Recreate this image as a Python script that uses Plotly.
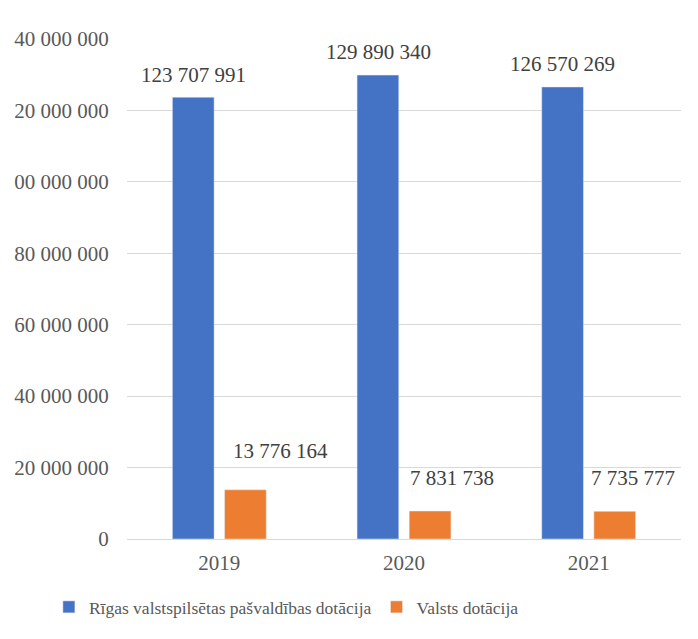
import plotly.graph_objects as go

# values
years = ["2019", "2020", "2021"]
riga_dotacija = [123707991, 129890340, 126570269]
valsts_dotacija = [13776164, 7831738, 7735777]
riga_labels = ["123 707 991", "129 890 340", "126 570 269"]
valsts_labels = ["13 776 164", "7 831 738", "7 735 777"]

# the left edge of the original picture is cropped, so the 100M+ labels lose their first digit
y_tickvals = [0, 20000000, 40000000, 60000000, 80000000, 100000000, 120000000, 140000000]
y_ticktext = ["0", "20 000 000", "40 000 000", "60 000 000", "80 000 000",
              "00 000 000", "20 000 000", "40 000 000"]

BLUE = "#4472C4"
ORANGE = "#ED7D31"
SERIF = "Liberation Serif"

fig = go.Figure()
fig.add_trace(
    go.Bar(
        x=years,
        y=riga_dotacija,
        name="Rīgas valstspilsētas pašvaldības dotācija",
        marker=dict(color=BLUE),
    )
)
fig.add_trace(
    go.Bar(
        x=years,
        y=valsts_dotacija,
        name="Valsts dotācija",
        marker=dict(color=ORANGE),
    )
)

# data labels (the orange ones were dragged up and to the right in the original)
riga_shift = [(-26, 22), (-26, 23), (-26, 23)]
valsts_shift = [(61, 39), (48, 33), (44, 33)]
for i in range(len(years)):
    fig.add_annotation(
        x=i, y=riga_dotacija[i], text=riga_labels[i], showarrow=False,
        xshift=riga_shift[i][0], yshift=riga_shift[i][1], yanchor="middle",
        font=dict(family=SERIF, size=21, color="#404040"),
    )
    fig.add_annotation(
        x=i, y=valsts_dotacija[i], text=valsts_labels[i], showarrow=False,
        xshift=valsts_shift[i][0], yshift=valsts_shift[i][1], yanchor="middle",
        font=dict(family=SERIF, size=21, color="#404040"),
    )

# page body has an 8px margin, so the figure is a bit smaller than the window
fig.update_layout(
    width=690,
    height=631,
    margin=dict(l=119, r=17, t=31, b=100),
    paper_bgcolor="white",
    plot_bgcolor="white",
    barmode="group",
    bargap=0.435,
    bargroupgap=0.2,
    font=dict(family=SERIF, color="#595959"),
    legend=dict(
        orientation="h",
        x=-0.141,
        xanchor="left",
        y=-0.136,
        yanchor="middle",
        font=dict(family=SERIF, size=17.5, color="#595959"),
    ),
)
fig.update_xaxes(
    type="category",
    showline=True,
    linecolor="#D9D9D9",
    linewidth=1,
    showgrid=False,
    ticks="outside",
    ticklen=5,
    tickcolor="rgba(0,0,0,0)",
    tickfont=dict(family=SERIF, size=21, color="#595959"),
)
fig.update_yaxes(
    range=[0, 140000000],
    tickvals=y_tickvals,
    ticktext=y_ticktext,
    showgrid=True,
    gridcolor="#D9D9D9",
    gridwidth=1,
    zeroline=False,
    showline=False,
    ticks="outside",
    ticklen=13,
    tickcolor="rgba(0,0,0,0)",
    tickfont=dict(family=SERIF, size=21, color="#595959"),
    automargin=False,
)

fig.write_html("out.html")
